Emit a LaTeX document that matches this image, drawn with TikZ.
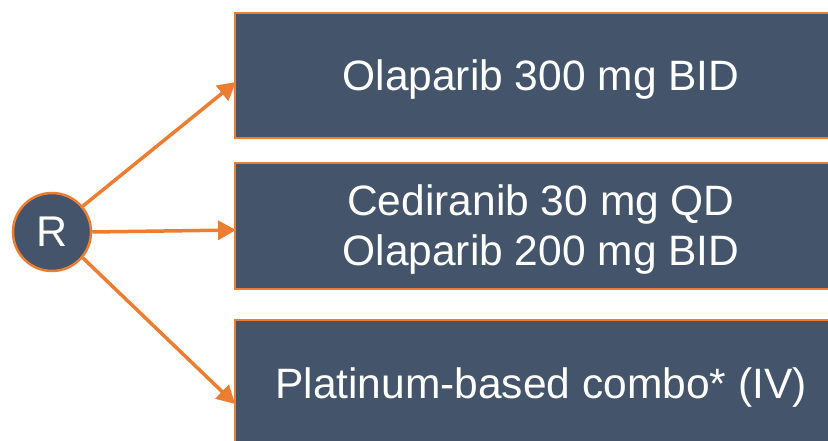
\documentclass[tikz,border=0pt]{standalone}
\usepackage{fontspec}
\setmainfont{Liberation Sans}
\usetikzlibrary{arrows.meta}
\definecolor{boxfill}{HTML}{44546A}
\definecolor{accent}{HTML}{ED7D31}
\tikzset{
  armbox/.style={draw=accent, line width=2pt, fill=boxfill, minimum width=612pt, inner sep=0pt},
  armtext/.style={text=white, align=center, inner sep=0pt, font=\fontsize{42.5}{50}\selectfont},
  rnode/.style={circle, draw=accent, line width=2.5pt, fill=boxfill, text=white, minimum size=78pt, inner sep=0pt, font=\fontsize{43}{48}\selectfont},
  arm/.style={draw=accent, line width=3.5pt, -{Triangle[length=18pt,width=19pt]}}
}
\begin{document}
\begin{tikzpicture}[x=1pt,y=-1pt]
\useasboundingbox (0,0) rectangle (828,441);
\begin{scope}
\clip (0,0) rectangle (828,441);
\node[armbox, minimum height=125pt] (b1) at (541,75.5) {};
\node[armbox, minimum height=126pt] (b2) at (541,226) {};
\node[armbox, minimum height=125pt] (b3) at (541,382) {};
\node[armtext] (t1text) at ([yshift=-4pt]b1.center) {Olaparib 300 mg BID};
\node[armtext] (t2text) at ([yshift=-4pt]b2.center) {Cediranib 30 mg QD\\Olaparib 200 mg BID};
\node[armtext] (t3text) at ([yshift=-5pt]b3.center) {Platinum-based combo* (IV)};
\node[rnode] (r) at (52,232) {R};
\coordinate (t1) at (236,82);
\coordinate (t2) at (236,230);
\coordinate (t3) at (235,404);
\draw[arm] (r.40) -- (t1);
\draw[arm] (r.east) -- (t2);
\draw[arm] (r.-40) -- (t3);
\end{scope}
\end{tikzpicture}
\end{document}
